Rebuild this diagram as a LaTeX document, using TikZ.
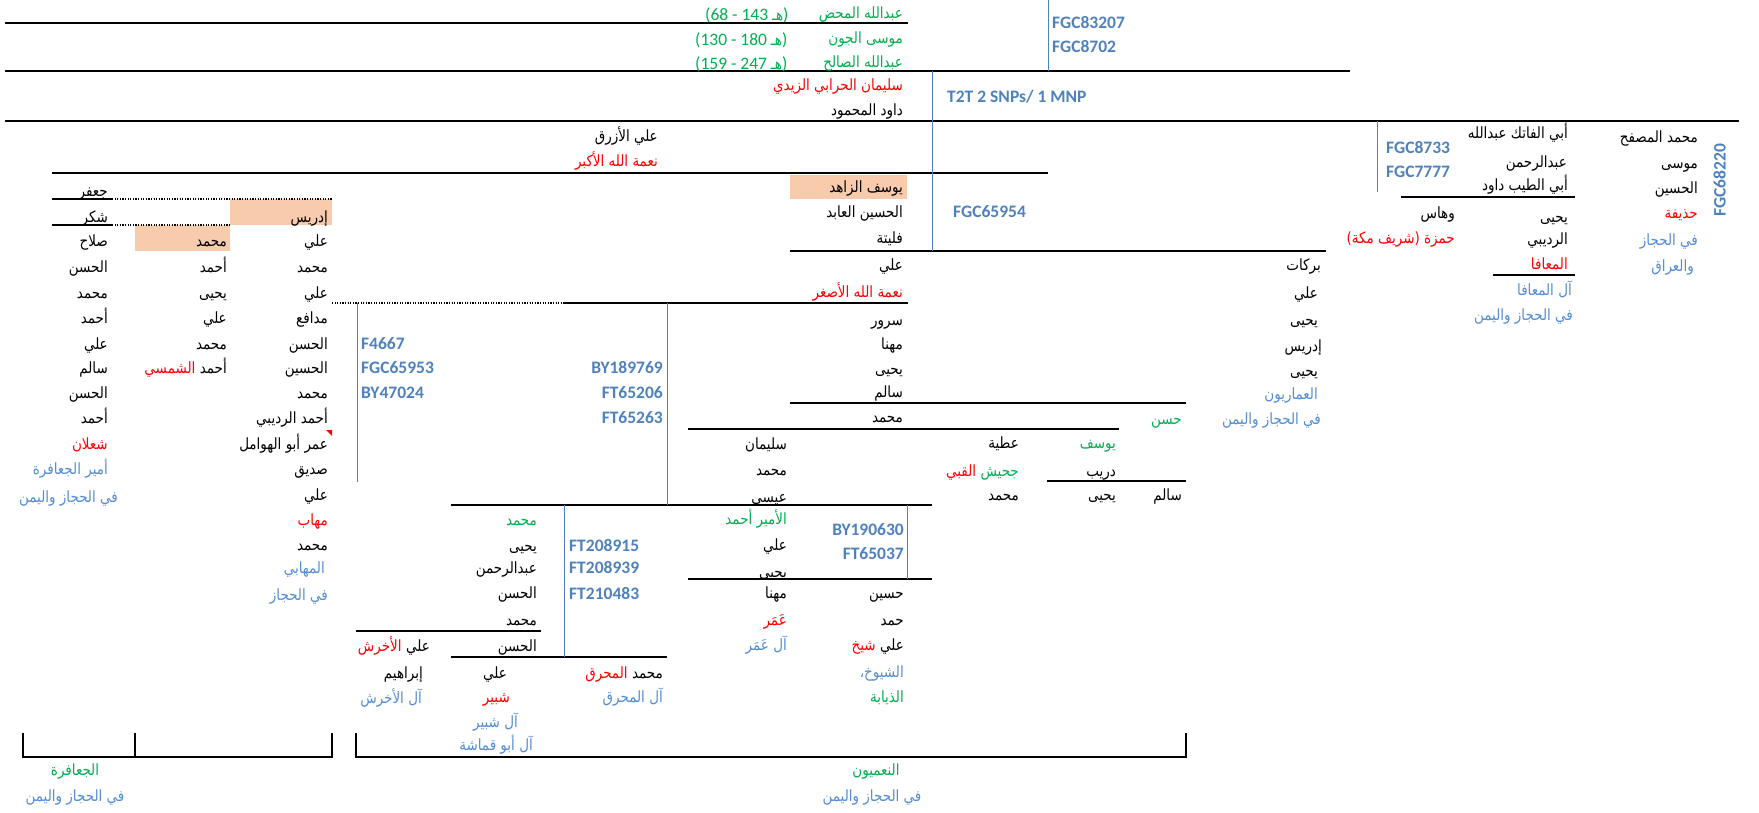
\documentclass[tikz,border=0pt]{standalone}
\usepackage{fontspec}
\setmainfont{Carlito}
\newfontfamily\arfont[Script=Arabic,FakeStretch=0.87]{DejaVu Sans}
\newfontfamily\lafont{Carlito}
\TeXXeTstate=1
\definecolor{sblue}{RGB}{79,129,189}
\definecolor{lblue}{RGB}{84,141,212}
\definecolor{tgreen}{RGB}{0,176,80}
\definecolor{tred}{RGB}{255,0,0}
\definecolor{peach}{RGB}{248,203,173}
\newcommand{\RL}[1]{\beginR#1\endR}
\tikzset{
  ar/.style={anchor=east, inner sep=0pt, font={\arfont\fontsize{15.5}{18}\selectfont}, text height=11pt, text depth=0pt},
  arl/.style={ar, text=lblue},
  arg/.style={ar, text=tgreen},
  arr/.style={ar, text=tred},
  arc/.style={ar, anchor=center},
  snp/.style={anchor=west, inner sep=0pt, font={\lafont\bfseries\fontsize{17.5}{20}\selectfont}, text=sblue, text height=11.3pt, text depth=0pt},
  snpr/.style={snp, anchor=east},
  dt/.style={anchor=west, inner sep=0pt, text=tgreen, font={\lafont\fontsize{17.5}{20}\selectfont}, text height=15pt, text depth=0pt},
  hline/.style={line width=1.2pt, black},
  dline/.style={line width=1.2pt, black, dash pattern=on 1.2pt off 1.4pt},
  vline/.style={line width=1pt, sblue},
  cellbox/.style={fill=peach}
}
\begin{document}
\begin{tikzpicture}[x=1pt,y=-1pt]
\fill[white] (0,0) rectangle (1759,813);
\useasboundingbox (0,0) rectangle (1759,813);
% highlighted cells
\fill[cellbox] (230,199) rectangle (332,225);
\fill[cellbox] (135,225) rectangle (230,251);
\fill[cellbox] (790,175) rectangle (907,199);
% black horizontal lines
\draw[hline] (5,23) -- (908,23);
\draw[hline] (5,71) -- (1350,71);
\draw[hline] (5,121) -- (1739,121);
\draw[hline] (52,173) -- (1048,173);
\draw[hline] (52,199) -- (112,199);
\draw[dline] (112,199) -- (332,199);
\draw[hline] (52,225) -- (112,225);
\draw[dline] (112,225) -- (230,225);
\draw[hline] (790,251) -- (1326,251);
\draw[dline] (332,303) -- (563,303);
\draw[hline] (563,303) -- (908,303);
\draw[hline] (1401,197) -- (1575,197);
\draw[hline] (1493,275) -- (1575,275);
\draw[hline] (790,403) -- (1186,403);
\draw[hline] (688,429) -- (1119,429);
\draw[hline] (1047,481) -- (1186,481);
\draw[hline] (451,505) -- (932,505);
\draw[hline] (688,579) -- (932,579);
\draw[hline] (356,631) -- (541,631);
\draw[hline] (451,657) -- (667,657);
\draw[hline] (23,733) -- (23,757) -- (332,757) -- (332,733);
\draw[hline] (135,733) -- (135,757);
\draw[hline] (356,733) -- (356,757) -- (1186,757) -- (1186,733);
% blue vertical lines
\draw[vline] (1048,0) -- (1048,71);
\draw[vline] (932,71) -- (932,251);
\draw[vline] (1377,121) -- (1377,192);
\draw[vline] (357,303) -- (357,482);
\draw[vline] (667,303) -- (667,505);
\draw[vline] (564,505) -- (564,657);
\draw[vline] (907,505) -- (907,579);
% comment marker
\fill[tred] (326,430) -- (332,430) -- (332,436) -- cycle;

% ---- top block
\node[arg] (a1) at (903,13) {\RL{عبدالله المحض}};
\node[arg] (a2) at (903,38) {\RL{موسى الجون}};
\node[arg] (a3) at (903,62) {\RL{عبدالله الصالح}};
\node[dt] (d1) at (705,13) {(68 - 143 {\arfont\fontsize{15.5}{18}\selectfont هـ})};
\node[dt] (d2) at (695,38) {(130 - 180 {\arfont\fontsize{15.5}{18}\selectfont هـ})};
\node[dt] (d3) at (695,62) {(159 - 247 {\arfont\fontsize{15.5}{18}\selectfont هـ})};
\node[snp] (s1) at (1052,23) {FGC83207};
\node[snp] (s2) at (1052,47) {FGC8702};
\node[arr] (a4) at (903,85) {\RL{سليمان الحرابي الزيدي}};
\node[ar] (a5) at (903,110) {\RL{داود المحمود}};
\node[snp] (s3) at (947,97) {T2T 2 SNPs/ 1 MNP};
\node[ar] (a6) at (658,136) {\RL{علي الأزرق}};
\node[arr] (a7) at (658,161) {\RL{نعمة الله الأكبر}};
\node[ar] (a8) at (903,187) {\RL{يوسف الزاهد}};
\node[ar] (a9) at (903,212) {\RL{الحسين العابد}};
\node[ar] (a10) at (903,238) {\RL{فليتة}};
\node[snp] (s4) at (953,212) {FGC65954};
\node[ar] (a11) at (903,265) {\RL{علي}};
\node[arr] (a12) at (903,292) {\RL{نعمة الله الأصغر}};
\node[ar] (a13) at (903,320) {\RL{سرور}};
\node[ar] (a14) at (903,344) {\RL{مهنا}};
\node[ar] (a15) at (903,369) {\RL{يحيى}};
\node[ar] (a16) at (903,392) {\RL{سالم}};
\node[ar] (a17) at (903,417) {\RL{محمد}};
% ---- right column (Barakat)
\node[ar] (b1) at (1321,265) {\RL{بركات}};
\node[ar] (b2) at (1318,293) {\RL{علي}};
\node[ar] (b3) at (1318,320) {\RL{يحيى}};
\node[ar] (b4) at (1322,346) {\RL{إدريس}};
\node[ar] (b5) at (1318,371) {\RL{يحيى}};
\node[arl] (b6) at (1318,394) {\RL{العماريون}};
\node[arl] (b7) at (1321,419) {\RL{في الحجاز واليمن}};
\node[arg] (b8) at (1182,419) {\RL{حسن}};
% ---- middle columns
\node[ar] (c1) at (787,444) {\RL{سليمان}};
\node[ar] (c2) at (787,470) {\RL{محمد}};
\node[ar] (c3) at (787,497) {\RL{عيسى}};
\node[ar] (c4) at (1019,443) {\RL{عطية}};
\node[arg] (c5) at (1019,471) {\RL{جحيش}};
\node[arr] (c5b) at ([xshift=-4pt]c5.west) {\RL{القبي}};
\node[ar] (c6) at (1019,495) {\RL{محمد}};
\node[arg] (c7) at (1116,443) {\RL{يوسف}};
\node[ar] (c8) at (1116,471) {\RL{دريب}};
\node[ar] (c9) at (1116,495) {\RL{يحيى}};
\node[ar] (c10) at (1182,495) {\RL{سالم}};
\node[snpr] (s5) at (663,368) {BY189769};
\node[snpr] (s6) at (663,393) {FT65206};
\node[snpr] (s7) at (663,418) {FT65263};
% ---- left column A
\node[ar] (e1) at (108,191) {\RL{جعفر}};
\node[ar] (e2) at (108,217) {\RL{شكر}};
\node[ar] (e3) at (108,241) {\RL{صلاح}};
\node[ar] (e4) at (108,267) {\RL{الحسن}};
\node[ar] (e5) at (108,293) {\RL{محمد}};
\node[ar] (e6) at (108,318) {\RL{أحمد}};
\node[ar] (e7) at (108,344) {\RL{علي}};
\node[ar] (e8) at (108,368) {\RL{سالم}};
\node[ar] (e9) at (108,393) {\RL{الحسن}};
\node[ar] (e10) at (108,418) {\RL{أحمد}};
\node[arr] (e11) at (108,444) {\RL{شعلان}};
\node[arl] (e12) at (108,469) {\RL{أمير الجعافرة}};
\node[arl] (e13) at (118,497) {\RL{في الحجاز واليمن}};
% ---- left column B
\node[ar] (f1) at (227,241) {\RL{محمد}};
\node[ar] (f2) at (227,267) {\RL{أحمد}};
\node[ar] (f3) at (227,293) {\RL{يحيى}};
\node[ar] (f4) at (227,318) {\RL{علي}};
\node[ar] (f5) at (227,344) {\RL{محمد}};
\node[ar] (f6) at (227,368) {\RL{أحمد}};
\node[arr] (f6b) at ([xshift=-4pt]f6.west) {\RL{الشمسي}};
% ---- left column C
\node[ar] (g1) at (328,217) {\RL{إدريس}};
\node[ar] (g2) at (328,241) {\RL{علي}};
\node[ar] (g3) at (328,267) {\RL{محمد}};
\node[ar] (g4) at (328,293) {\RL{علي}};
\node[ar] (g5) at (328,318) {\RL{مدافع}};
\node[ar] (g6) at (328,344) {\RL{الحسن}};
\node[ar] (g7) at (328,368) {\RL{الحسين}};
\node[ar] (g8) at (328,393) {\RL{محمد}};
\node[ar] (g9) at (328,418) {\RL{أحمد الرديبي}};
\node[ar] (g10) at (328,444) {\RL{عمر أبو الهوامل}};
\node[ar] (g11) at (328,469) {\RL{صديق}};
\node[ar] (g12) at (328,495) {\RL{علي}};
\node[arr] (g13) at (328,520) {\RL{مهاب}};
\node[ar] (g14) at (328,545) {\RL{محمد}};
\node[arl] (g15) at (325,568) {\RL{المهابي}};
\node[arl] (g16) at (328,595) {\RL{في الحجاز}};
\node[snp] (s8) at (361,344) {F4667};
\node[snp] (s9) at (361,368) {FGC65953};
\node[snp] (s10) at (361,393) {BY47024};
% ---- lower middle
\node[arg] (h1) at (537,520) {\RL{محمد}};
\node[ar] (h2) at (537,546) {\RL{يحيى}};
\node[ar] (h3) at (537,568) {\RL{عبدالرحمن}};
\node[ar] (h4) at (537,593) {\RL{الحسن}};
\node[ar] (h5) at (537,620) {\RL{محمد}};
\node[ar] (h6) at (537,646) {\RL{الحسن}};
\node[snp] (s11) at (569,546) {FT208915};
\node[snp] (s12) at (569,568) {FT208939};
\node[snp] (s13) at (569,594) {FT210483};
\node[arg] (i1) at (787,519) {\RL{الأمير أحمد}};
\node[ar] (i2) at (787,545) {\RL{علي}};
\node[ar] (i3) at (787,572) {\RL{يحيى}};
\node[ar] (i4) at (787,593) {\RL{مهنا}};
\node[arr] (i5) at (787,620) {\RL{عَمَر}};
\node[arl] (i6) at (787,645) {\RL{آل عَمَر}};
\node[snpr] (s14) at (904,530) {BY190630};
\node[snpr] (s15) at (904,554) {FT65037};
\node[ar] (j1) at (904,593) {\RL{حسين}};
\node[ar] (j2) at (904,620) {\RL{حمد}};
\node[ar] (j3) at (904,645) {\RL{علي}};
\node[arr] (j3b) at ([xshift=-4pt]j3.west) {\RL{شيخ}};
\node[arl] (j4) at (904,672) {\RL{الشيوخ،}};
\node[arg] (j5) at (904,697) {\RL{الذيابة}};
\node[ar] (k1) at (663,673) {\RL{محمد}};
\node[arr] (k1b) at ([xshift=-4pt]k1.west) {\RL{المحرق}};
\node[arl] (k2) at (663,697) {\RL{آل المحرق}};
\node[ar] (l1) at (507,673) {\RL{علي}};
\node[arr] (l2) at (510,697) {\RL{شبير}};
\node[arl] (l3) at (518,722) {\RL{آل شبير}};
\node[arl] (l4) at (533,745) {\RL{آل أبو قماشة}};
\node[ar] (m1) at (430,646) {\RL{علي}};
\node[arr] (m1b) at ([xshift=-4pt]m1.west) {\RL{الأخرش}};
\node[ar] (m2) at (423,673) {\RL{إبراهيم}};
\node[arl] (m3) at (422,698) {\RL{آل الأخرش}};
% ---- bottom labels
\node[arc, text=tgreen] (n1) at (75,770) {\RL{الجعافرة}};
\node[arc, text=lblue] (n2) at (75,796) {\RL{في الحجاز واليمن}};
\node[arc, text=tgreen] (n3) at (876,770) {\RL{النعميون}};
\node[arc, text=lblue] (n4) at (872,796) {\RL{في الحجاز واليمن}};
% ---- top right
\node[ar] (p1) at (1698,137) {\RL{محمد المصفح}};
\node[ar] (p2) at (1698,163) {\RL{موسى}};
\node[ar] (p3) at (1698,188) {\RL{الحسين}};
\node[arr] (p4) at (1698,213) {\RL{حذيفة}};
\node[arl] (p5) at (1698,240) {\RL{في الحجاز}};
\node[arl] (p6) at (1694,266) {\RL{والعراق}};
\node[snp, anchor=center, rotate=90] (s16) at (1720,180) {FGC68220};
\node[ar] (q1) at (1568,133) {\RL{أبي الفاتك عبدالله}};
\node[ar] (q2) at (1567,162) {\RL{عبدالرحمن}};
\node[ar] (q3) at (1568,185) {\RL{أبي الطيب داود}};
\node[ar] (q4) at (1568,217) {\RL{يحيى}};
\node[ar] (q5) at (1568,239) {\RL{الرديبي}};
\node[arr] (q6) at (1568,264) {\RL{المعافا}};
\node[arl] (q7) at (1572,290) {\RL{آل المعافا}};
\node[arl] (q8) at (1573,315) {\RL{في الحجاز واليمن}};
\node[snp] (s17) at (1386,148) {FGC8733};
\node[snp] (s18) at (1386,172) {FGC7777};
\node[ar] (r1) at (1455,213) {\RL{وهاس}};
\node[arr] (r2) at (1455,238) {\RL{حمزة (شريف مكة)}};
\end{tikzpicture}
\end{document}
